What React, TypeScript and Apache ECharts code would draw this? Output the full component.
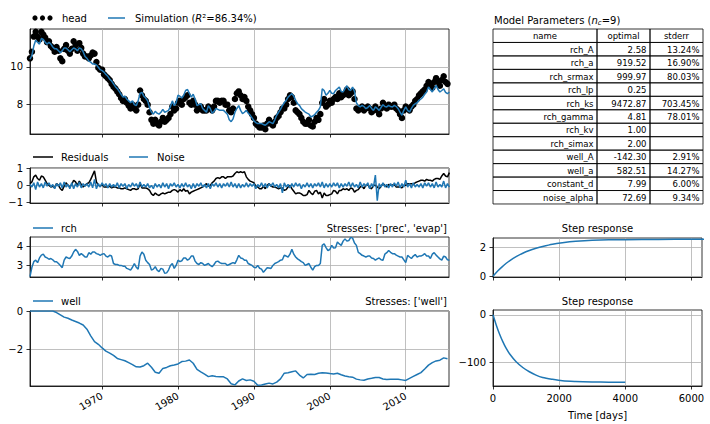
import React, { useEffect, useRef } from 'react';
import * as echarts from 'echarts';

// ---------- time base (quarterly samples starting mid 1960) ----------
const START_YEAR = 1960.5;
const STEP_YEARS = 0.25;

// observed head (one row per calendar year, quarterly samples)
const headRows: number[][] = [
  [10.45, 10.8],
  [11.6, 11.85, 11.6, 11.45],
  [11.85, 11.7, 11.55, 11.3],
  [11.35, 11.1, 11.0, 10.8],
  [11.05, 10.85, 10.45, 10.3],
  [10.95, 11.15, 10.85, 10.7],
  [10.95, 11.35, 11.15, 10.85],
  [11.25, 11.0, 10.7, 10.55],
  [10.55, 10.45, 10.6, 10.75],
  [10.7, 10.25, 9.95, 9.85],
  [9.85, 9.6, 9.5, 9.4],
  [9.3, 9.1, 8.95, 8.85],
  [8.7, 8.55, 8.35, 8.2],
  [8.3, 8.1, 7.95, 7.8],
  [8.0, 7.8, 7.7, 8.0],
  [8.75, 8.5, 8.3, 8.2],
  [8.0, 7.6, 7.2, 7.0],
  [7.2, 7.0, 6.9, 7.1],
  [7.3, 7.1, 7.2, 7.3],
  [7.5, 7.9, 7.7, 7.8],
  [8.1, 8.2, 8.0, 8.3],
  [8.4, 8.5, 8.1, 8.0],
  [8.2, 8.0, 7.7, 7.8],
  [7.9, 7.7, 7.7, 7.7],
  [7.9, 7.8, 7.7, 7.9],
  [8.2, 8.2, 8.1, 8.2],
  [8.2, 8.0, 8.0, 7.7],
  [7.6, 7.8, 8.3, 8.6],
  [8.7, 8.5, 8.3, 8.4],
  [8.2, 7.9, 7.7, 7.5],
  [7.3, 7.0, 6.9, 6.8],
  [6.8, 6.9, 6.7, 7.0],
  [7.2, 7.0, 6.9, 7.1],
  [7.3, 7.4, 7.6, 7.8],
  [7.8, 8.0, 8.3, 8.5],
  [8.4, 8.1, 7.7, 7.6],
  [7.5, 7.3, 7.1, 7.0],
  [7.0, 7.2, 6.9, 6.85],
  [7.1, 7.3, 7.2, 7.5],
  [8.1, 8.3, 7.9, 8.0],
  [8.2, 8.1, 8.3, 8.4],
  [8.3, 8.6, 8.4, 8.5],
  [8.6, 8.8, 8.5, 8.6],
  [8.7, 8.3, 7.8, 7.7],
  [7.8, 7.9, 7.7, 7.8],
  [7.9, 7.8, 7.6, 7.7],
  [7.9, 7.7, 7.5, 7.8],
  [8.1, 7.9, 7.8, 8.0],
  [7.9, 7.9, 8.0, 7.8],
  [7.7, 7.5, 7.3, 7.7],
  [7.9, 7.8, 7.7, 7.9],
  [8.0, 8.2, 8.3, 8.5],
  [8.6, 8.7, 8.8, 9.0],
  [9.2, 9.1, 8.9, 9.2],
  [9.4, 9.2, 9.0, 9.3],
  [9.5, 9.2, 9.1, 9.4],
];

// simulated head
const simRows: number[][] = [
  [10.4, 10.6],
  [11.1, 11.4, 11.3, 11.2],
  [11.5, 11.45, 11.3, 11.2],
  [11.3, 11.2, 11.05, 10.95],
  [10.95, 10.85, 10.75, 10.85],
  [11.0, 11.0, 10.9, 10.8],
  [10.9, 11.0, 10.95, 10.85],
  [11.0, 10.95, 10.8, 10.55],
  [10.45, 10.3, 10.25, 10.15],
  [10.15, 10.1, 9.98, 9.85],
  [9.8, 9.72, 9.6, 9.5],
  [9.35, 9.25, 9.1, 8.95],
  [8.85, 8.7, 8.55, 8.4],
  [8.45, 8.3, 8.2, 8.1],
  [8.2, 8.0, 7.95, 8.2],
  [8.6, 8.65, 8.45, 8.35],
  [8.2, 7.85, 7.6, 7.5],
  [7.65, 7.55, 7.5, 7.6],
  [7.75, 7.6, 7.65, 7.7],
  [7.9, 8.2, 7.95, 8.1],
  [8.5, 8.45, 8.35, 8.5],
  [8.75, 8.8, 8.6, 8.4],
  [8.55, 8.3, 7.96, 8.0],
  [8.05, 7.8, 7.7, 7.6],
  [7.95, 7.8, 7.55, 7.65],
  [7.8, 7.75, 7.7, 7.7],
  [7.7, 7.6, 7.5, 7.2],
  [7.1, 7.25, 7.6, 7.8],
  [7.95, 7.7, 7.53, 7.6],
  [7.7, 7.55, 7.45, 7.3],
  [7.15, 7.05, 7.0, 7.0],
  [7.0, 6.95, 6.91, 7.0],
  [7.1, 7.05, 7.0, 7.2],
  [7.44, 7.6, 7.75, 7.95],
  [8.1, 8.23, 8.4, 8.5],
  [8.58, 8.45, 8.23, 8.05],
  [7.96, 7.79, 7.7, 7.61],
  [7.55, 7.5, 7.35, 7.4],
  [7.47, 7.6, 7.7, 7.88],
  [8.84, 8.75, 8.5, 8.6],
  [8.75, 8.6, 8.58, 8.75],
  [8.84, 8.93, 8.7, 8.67],
  [8.85, 9.0, 8.8, 8.75],
  [8.93, 8.7, 8.1, 7.95],
  [7.88, 7.96, 7.9, 7.79],
  [7.85, 7.96, 7.8, 7.7],
  [7.88, 7.8, 7.7, 7.85],
  [8.0, 7.9, 7.88, 7.96],
  [7.9, 7.88, 7.96, 7.9],
  [7.79, 7.6, 7.44, 7.7],
  [7.88, 7.7, 7.61, 7.8],
  [7.96, 8.05, 8.1, 8.23],
  [8.3, 8.4, 8.55, 8.67],
  [8.93, 8.8, 8.67, 8.85],
  [9.02, 8.8, 8.67, 8.75],
  [8.84, 8.65, 8.58, 8.67],
];

// residuals
const residualRows: number[][] = [
  [0.1, 0.2],
  [0.5, 0.6, 0.4, 0.3],
  [0.55, 0.5, 0.3, 0.1],
  [0.0, -0.1, -0.05, -0.15],
  [0.1, 0.0, -0.2, -0.3],
  [-0.05, 0.15, 0.0, -0.1],
  [0.05, 0.3, 0.2, 0.0],
  [0.25, 0.05, -0.1, 0.0],
  [0.1, 0.15, 0.35, 0.6],
  [0.85, 0.2, 0.0, -0.05],
  [0.05, -0.1, -0.1, -0.1],
  [-0.05, -0.15, -0.1, -0.1],
  [-0.15, -0.15, -0.2, -0.2],
  [-0.15, -0.2, -0.25, -0.3],
  [-0.2, -0.2, -0.25, -0.2],
  [0.1, -0.15, -0.15, -0.15],
  [-0.2, -0.3, -0.5, -0.6],
  [-0.45, -0.55, -0.6, -0.5],
  [-0.45, -0.5, -0.45, -0.4],
  [-0.4, -0.3, -0.25, -0.3],
  [-0.4, -0.25, -0.35, -0.2],
  [-0.35, -0.3, -0.5, -0.4],
  [-0.35, -0.3, -0.25, -0.2],
  [-0.15, -0.1, 0.0, 0.1],
  [-0.05, 0.0, 0.15, 0.25],
  [0.4, 0.45, 0.4, 0.5],
  [0.5, 0.4, 0.5, 0.5],
  [0.5, 0.55, 0.7, 0.8],
  [0.75, 0.8, 0.75, 0.8],
  [0.5, 0.35, 0.25, 0.2],
  [0.15, -0.05, -0.1, -0.2],
  [-0.2, -0.05, -0.2, 0.0],
  [0.1, -0.05, -0.1, -0.1],
  [-0.15, -0.2, -0.15, -0.15],
  [-0.3, -0.25, -0.1, 0.0],
  [-0.2, -0.35, -0.5, -0.45],
  [-0.45, -0.5, -0.6, -0.6],
  [-0.55, -0.3, -0.45, -0.55],
  [-0.35, -0.3, -0.5, -0.4],
  [-0.75, -0.45, -0.6, -0.6],
  [-0.55, -0.5, -0.3, -0.35],
  [-0.5, -0.3, -0.3, -0.2],
  [-0.25, -0.2, -0.3, -0.15],
  [-0.2, -0.4, -0.3, -0.25],
  [-0.1, -0.05, -0.2, 0.0],
  [0.05, -0.15, -0.2, 0.0],
  [0.0, -0.1, -0.2, -0.05],
  [0.1, 0.0, -0.1, 0.05],
  [0.0, 0.02, 0.05, -0.1],
  [-0.1, -0.1, -0.15, 0.0],
  [0.0, 0.1, 0.1, 0.1],
  [0.05, 0.15, 0.2, 0.25],
  [0.3, 0.3, 0.25, 0.35],
  [0.3, 0.3, 0.25, 0.35],
  [0.4, 0.4, 0.35, 0.55],
  [0.7, 0.55, 0.5, 0.75],
];

// noise
const noiseRows: number[][] = [
  [0.05, -0.1],
  [0.15, -0.25, 0.2, -0.1],
  [0.1, -0.15, 0.2, -0.05],
  [0.15, -0.1, 0.05, -0.2],
  [0.1, -0.05, 0.15, -0.15],
  [0.2, -0.1, 0.05, -0.2],
  [0.15, -0.2, 0.1, -0.1],
  [0.2, -0.15, 0.1, -0.05],
  [0.1, -0.1, 0.2, -0.15],
  [0.35, -0.2, 0.1, -0.1],
  [0.15, -0.05, 0.1, -0.15],
  [0.1, -0.1, 0.05, -0.1],
  [0.15, -0.15, 0.1, -0.05],
  [0.1, -0.2, 0.05, -0.1],
  [0.15, -0.05, 0.1, -0.15],
  [0.2, -0.1, 0.05, -0.1],
  [0.1, -0.15, 0.0, -0.2],
  [0.1, -0.1, 0.05, -0.15],
  [0.15, -0.1, 0.1, -0.2],
  [0.1, -0.05, 0.15, -0.1],
  [0.05, -0.15, 0.1, -0.1],
  [0.15, -0.1, 0.05, -0.2],
  [0.1, -0.15, 0.1, -0.05],
  [0.15, -0.1, 0.05, -0.15],
  [0.1, -0.2, 0.1, -0.05],
  [0.15, -0.1, 0.1, -0.15],
  [0.1, -0.05, 0.15, -0.1],
  [0.2, -0.1, 0.1, -0.15],
  [0.1, -0.15, 0.05, -0.1],
  [0.15, -0.1, 0.1, -0.05],
  [0.1, -0.2, 0.05, -0.1],
  [0.15, -0.1, 0.1, -0.15],
  [0.1, -0.05, 0.15, -0.1],
  [0.05, -0.15, 0.1, -0.45],
  [0.15, -0.1, 0.05, -0.15],
  [0.1, -0.1, 0.15, -0.05],
  [0.1, -0.2, 0.05, -0.1],
  [0.15, -0.1, 0.1, -0.15],
  [0.1, -0.05, 0.15, -0.1],
  [0.2, -0.15, 0.1, -0.1],
  [0.1, -0.1, 0.15, -0.05],
  [0.15, -0.15, 0.1, -0.1],
  [0.1, -0.05, 0.2, -0.1],
  [0.15, -0.1, 0.05, -0.15],
  [0.2, -0.1, 0.1, -0.05],
  [0.15, -0.2, 0.1, -0.1],
  [0.6, -0.9, 0.1, -0.1],
  [0.15, -0.1, 0.05, -0.15],
  [0.1, -0.1, 0.15, -0.05],
  [0.2, -0.15, 0.1, -0.1],
  [0.3, -0.1, 0.1, -0.15],
  [0.15, -0.1, 0.05, -0.1],
  [0.1, -0.15, 0.15, -0.05],
  [0.15, -0.1, 0.1, -0.15],
  [0.2, -0.1, 0.05, -0.1],
  [0.25, -0.15, 0.1, -0.1],
];

// recharge contribution
const rchRows: number[][] = [
  [2.4, 2.9],
  [3.2, 3.28, 3.15, 3.4],
  [3.55, 3.6, 3.45, 3.4],
  [3.33, 3.37, 3.3, 3.2],
  [3.2, 3.1, 3.0, 2.88],
  [3.28, 3.45, 3.4, 3.37],
  [3.5, 3.72, 3.86, 3.75],
  [3.54, 3.63, 3.55, 3.45],
  [3.45, 3.68, 3.6, 3.72],
  [3.72, 3.63, 3.6, 3.54],
  [3.6, 3.63, 3.5, 3.45],
  [3.54, 3.5, 3.1, 3.05],
  [3.05, 3.0, 3.0, 2.96],
  [2.96, 2.84, 2.8, 2.75],
  [2.9, 3.1, 2.9, 2.8],
  [3.5, 3.72, 3.6, 3.28],
  [3.15, 3.05, 2.75, 2.8],
  [2.93, 2.75, 2.67, 2.84],
  [2.8, 2.58, 2.6, 2.75],
  [3.0, 3.1, 2.84, 3.0],
  [3.28, 3.2, 3.25, 3.4],
  [3.4, 3.28, 3.35, 3.5],
  [3.5, 3.23, 3.1, 3.05],
  [3.15, 3.1, 3.0, 3.05],
  [3.1, 3.0, 2.93, 3.05],
  [3.2, 3.23, 3.15, 3.1],
  [3.1, 3.1, 3.0, 3.05],
  [3.1, 3.15, 3.1, 3.3],
  [3.54, 3.4, 3.37, 3.28],
  [3.28, 3.1, 3.05, 3.0],
  [2.9, 2.88, 3.0, 2.85],
  [2.8, 2.63, 2.75, 2.88],
  [2.86, 2.84, 3.0, 3.1],
  [3.15, 3.2, 3.28, 3.3],
  [3.54, 3.5, 3.45, 3.6],
  [3.86, 3.6, 3.45, 3.35],
  [3.28, 3.2, 3.15, 3.0],
  [3.05, 3.1, 2.9, 2.75],
  [2.93, 3.0, 3.0, 3.1],
  [4.07, 4.16, 3.95, 3.8],
  [3.85, 4.07, 3.93, 3.95],
  [4.25, 4.15, 4.07, 4.3],
  [4.42, 4.3, 4.33, 4.5],
  [4.46, 4.2, 4.07, 3.7],
  [3.63, 3.54, 3.5, 3.45],
  [3.5, 3.5, 3.4, 3.37],
  [3.28, 3.35, 3.4, 3.3],
  [3.28, 3.6, 3.68, 3.8],
  [3.7, 3.63, 3.63, 3.55],
  [3.5, 3.45, 3.45, 3.3],
  [3.15, 3.54, 3.45, 3.37],
  [3.5, 3.58, 3.45, 3.5],
  [3.5, 3.55, 3.63, 3.5],
  [3.5, 3.37, 3.6, 3.68],
  [3.55, 3.45, 3.35, 3.28],
  [3.5, 3.45, 3.3, 3.28],
];

// well contribution, half-yearly from 1960.5
const WELL_START = 1960.5;
const WELL_STEP = 0.5;
const wellValues: number[] = [
  0, 0, 0, 0, 0, 0, 0, -0.08, -0.2, -0.32,
  -0.38, -0.47, -0.55, -0.63, -0.73, -0.95, -1.3, -1.6, -1.74, -1.93,
  -2.1, -2.2, -2.32, -2.48, -2.54, -2.6, -2.7, -2.8, -2.92, -2.93,
  -2.86, -2.73, -2.94, -3.2, -3.25, -3.0, -2.95, -2.86, -2.82, -2.77,
  -2.64, -2.62, -2.56, -2.73, -3.05, -3.18, -3.3, -3.43, -3.39, -3.42,
  -3.44, -3.44, -3.55, -3.8, -3.86, -3.66, -3.55, -3.63, -3.6, -3.67,
  -3.88, -3.87, -3.82, -3.77, -3.81, -3.72, -3.55, -3.25, -3.23, -3.18,
  -3.13, -3.35, -3.5, -3.32, -3.3, -3.32, -3.25, -3.23, -3.24, -3.27,
  -3.29, -3.25, -3.33, -3.4, -3.44, -3.46, -3.56, -3.6, -3.62, -3.55,
  -3.52, -3.48, -3.48, -3.55, -3.58, -3.57, -3.57, -3.57, -3.6, -3.63,
  -3.52, -3.42, -3.32, -3.22, -3.03, -2.83, -2.7, -2.61, -2.57, -2.45,
  -2.5,
];

// step responses
const stepRchTime = [0, 100, 200, 300, 400, 500, 700, 900, 1100, 1300, 1500, 1800, 2100, 2500, 3000, 3500, 4000, 5000, 6000, 6500];
const stepRchValue = [0, 0.27, 0.5, 0.71, 0.91, 1.08, 1.37, 1.61, 1.8, 1.95, 2.08, 2.24, 2.34, 2.44, 2.52, 2.55, 2.55, 2.57, 2.58, 2.58];
const stepWellTime = [0, 100, 200, 300, 400, 500, 700, 900, 1100, 1300, 1500, 1800, 2100, 2500, 3000, 3500, 4000];
const stepWellValue = [0, -22, -41, -57, -71, -82, -99, -111, -120, -127, -132, -136, -139, -140.5, -141.5, -142, -142.2];

// tick labels
const dateTicks = [1970, 1980, 1990, 2000, 2010];
const headTicks = [8, 10];
const residualTicks = [-1, 0, 1];
const rchTicks = [3, 4];
const wellTicks = [-2, 0];
const stepRchTicks = [0, 2];
const stepWellTicks = [-100, 0];
const stepTimeTicks = [0, 2000, 4000, 6000];

// parameter table
const paramNames = ['rch_A', 'rch_a', 'rch_srmax', 'rch_lp', 'rch_ks', 'rch_gamma', 'rch_kv', 'rch_simax', 'well_A', 'well_a', 'constant_d', 'noise_alpha'];
const paramOptimal = ['2.58', '919.52', '999.97', '0.25', '9472.87', '4.81', '1.00', '2.00', '-142.30', '582.51', '7.99', '72.69'];
const paramStderr = ['13.24%', '16.90%', '80.03%', '', '703.45%', '78.01%', '', '', '2.91%', '14.27%', '6.00%', '9.34%'];
const tableHeader = ['name', 'optimal', 'stderr'];

const BLUE = '#1f77b4';
const FONT = 'DejaVu Sans';

const years = headRows.flat().map((_, i) => START_YEAR + STEP_YEARS * i);
const toPairs = (rows: number[][]) => rows.flat().map((v, i) => [years[i], v]);
const wellPairs = wellValues.map((v, i) => [WELL_START + WELL_STEP * i, v]);
const zip = (xs: number[], ys: number[]) => xs.map((x, i) => [x, ys[i]]);

const fmt = (v: number) => (v < 0 ? '\u2212' + Math.abs(v) : String(v));

function xAx(grid: number, min: number, max: number, ticks: number[], showLabels: boolean, extra: any = {}) {
  return {
    type: 'value', gridIndex: grid, min, max, position: 'bottom',
    axisLine: { show: true, onZero: false, lineStyle: { color: '#000', width: 0.8 } },
    axisTick: { show: true, inside: false, length: 3.5, lineStyle: { color: '#000', width: 0.8 }, customValues: ticks },
    axisLabel: { show: showLabels, customValues: ticks, margin: 7, color: '#000', fontSize: 10, fontFamily: FONT, formatter: fmt, ...(extra.axisLabel || {}) },
    splitLine: { show: true, lineStyle: { color: '#b0b0b0', width: 0.8 } },
    ...(extra.rest || {}),
  };
}
function yAx(grid: number, min: number, max: number, ticks: number[]) {
  return {
    type: 'value', gridIndex: grid, min, max, position: 'left',
    axisLine: { show: true, onZero: false, lineStyle: { color: '#000', width: 0.8 } },
    axisTick: { show: true, inside: false, length: 3.5, lineStyle: { color: '#000', width: 0.8 }, customValues: ticks },
    axisLabel: { show: true, customValues: ticks, margin: 7, color: '#000', fontSize: 10, fontFamily: FONT, formatter: fmt },
    splitLine: { show: true, lineStyle: { color: '#b0b0b0', width: 0.8 } },
  };
}

function txt(text: string, x: number, y: number, align: string, size = 10, extra: any = {}) {
  return {
    type: 'text', x, y, silent: true,
    style: { text, fill: '#000', fontSize: size, fontFamily: FONT, align, textAlign: align, verticalAlign: 'middle', textVerticalAlign: 'middle', ...extra },
  };
}
function seg(x1: number, y1: number, x2: number, y2: number, color: string, w = 1.5) {
  return { type: 'line', silent: true, shape: { x1, y1, x2, y2 }, style: { stroke: color, lineWidth: w } };
}

function buildTable() {
  const els: any[] = [];
  const cols = [493, 597, 650, 703];
  const top = 29;
  const rowH = 13.46;
  const nRows = paramNames.length + 1;
  for (let r = 0; r < nRows; r++) {
    for (let c = 0; c < 3; c++) {
      els.push({
        type: 'rect', silent: true,
        shape: { x: cols[c], y: top + r * rowH, width: cols[c + 1] - cols[c], height: rowH },
        style: { fill: 'none', stroke: '#000', lineWidth: 0.8 },
      });
    }
  }
  const cy = (r: number) => top + r * rowH + rowH / 2 + 0.5;
  tableHeader.forEach((h, c) => els.push(txt(h, (cols[c] + cols[c + 1]) / 2, cy(0), 'center', 8.5)));
  paramNames.forEach((n, i) => {
    els.push(txt(n, cols[1] - 3.5, cy(i + 1), 'right', 8.5));
    els.push(txt(paramOptimal[i], cols[2] - 3.5, cy(i + 1), 'right', 8.5));
    if (paramStderr[i]) els.push(txt(paramStderr[i], cols[3] - 3.5, cy(i + 1), 'right', 8.5));
  });
  return els;
}

export default function App() {
  const ref = useRef<HTMLDivElement>(null);
  useEffect(() => {
    if (!ref.current) return;
    const chart = echarts.init(ref.current, undefined, { renderer: 'svg' });
    const gridBase = { show: true, borderColor: '#000', borderWidth: 0.8, backgroundColor: 'transparent', containLabel: false };
    const option: any = {
      animation: false,
      textStyle: { fontFamily: FONT },
      grid: [
        { ...gridBase, left: 30, top: 29, width: 419, height: 105 },
        { ...gridBase, left: 30, top: 168, width: 419, height: 35 },
        { ...gridBase, left: 30, top: 237, width: 419, height: 40 },
        { ...gridBase, left: 30, top: 311, width: 419, height: 75 },
        { ...gridBase, left: 493, top: 238, width: 209, height: 39 },
        { ...gridBase, left: 493, top: 310, width: 209, height: 76 },
      ],
      xAxis: [
        xAx(0, 1960.5, 2015.7, dateTicks, false),
        xAx(1, 1960.5, 2015.7, dateTicks, false),
        xAx(2, 1960.5, 2015.7, dateTicks, false),
        xAx(3, 1960.5, 2015.7, dateTicks, true, { axisLabel: { rotate: 30, margin: 9, formatter: (v: number) => String(v) } }),
        xAx(4, 0, 6320, stepTimeTicks, false),
        xAx(5, 0, 6320, stepTimeTicks, true, {
          rest: { name: 'Time [days]', nameLocation: 'middle', nameGap: 24, nameTextStyle: { color: '#000', fontSize: 10, fontFamily: FONT } },
        }),
      ],
      yAxis: [
        yAx(0, 6.45, 12.0, headTicks),
        yAx(1, -1.04, 1.02, residualTicks),
        yAx(2, 2.38, 4.52, rchTicks),
        yAx(3, -3.92, 0, wellTicks),
        yAx(4, -0.05, 2.67, stepRchTicks),
        yAx(5, -150, 10, stepWellTicks),
      ],
      series: [
        { name: 'head', type: 'scatter', xAxisIndex: 0, yAxisIndex: 0, data: toPairs(headRows), symbolSize: 6.5, itemStyle: { color: '#000', opacity: 1 }, silent: true },
        { name: 'Simulation', type: 'line', xAxisIndex: 0, yAxisIndex: 0, data: toPairs(simRows), showSymbol: false, lineStyle: { color: BLUE, width: 1.5 }, silent: true },
        { name: 'Residuals', type: 'line', xAxisIndex: 1, yAxisIndex: 1, data: toPairs(residualRows), showSymbol: false, lineStyle: { color: '#000', width: 1.5 }, silent: true },
        { name: 'Noise', type: 'line', xAxisIndex: 1, yAxisIndex: 1, data: toPairs(noiseRows), showSymbol: false, lineStyle: { color: BLUE, width: 1.5 }, silent: true },
        { name: 'rch', type: 'line', xAxisIndex: 2, yAxisIndex: 2, data: toPairs(rchRows), showSymbol: false, lineStyle: { color: BLUE, width: 1.5 }, silent: true },
        { name: 'well', type: 'line', xAxisIndex: 3, yAxisIndex: 3, data: wellPairs, showSymbol: false, lineStyle: { color: BLUE, width: 1.5 }, silent: true },
        { name: 'step rch', type: 'line', xAxisIndex: 4, yAxisIndex: 4, data: zip(stepRchTime, stepRchValue), showSymbol: false, smooth: 0.3, lineStyle: { color: BLUE, width: 1.5 }, silent: true },
        { name: 'step well', type: 'line', xAxisIndex: 5, yAxisIndex: 5, data: zip(stepWellTime, stepWellValue), showSymbol: false, smooth: 0.3, lineStyle: { color: BLUE, width: 1.5 }, silent: true },
      ],
      graphic: [
        // head legend
        { type: 'circle', silent: true, shape: { cx: 35, cy: 18, r: 2.6 }, style: { fill: '#000' } },
        { type: 'circle', silent: true, shape: { cx: 42.5, cy: 18, r: 2.6 }, style: { fill: '#000' } },
        { type: 'circle', silent: true, shape: { cx: 50, cy: 18, r: 2.6 }, style: { fill: '#000' } },
        txt('head', 62, 18, 'left'),
        seg(108, 18, 125, 18, BLUE),
        {
          type: 'text', x: 135, y: 18, silent: true,
          style: {
            text: '{n|Simulation (}{i|R}{n|\u00b2=86.34%)}', fill: '#000', fontSize: 10, fontFamily: FONT,
            align: 'left', textAlign: 'left', verticalAlign: 'middle', textVerticalAlign: 'middle',
            rich: { n: { fontSize: 10, fontFamily: FONT, fill: '#000' }, i: { fontSize: 10, fontFamily: FONT, fontStyle: 'italic', fill: '#000' } },
          },
        },
        // residual legend
        seg(33, 157, 53, 157, '#000'),
        txt('Residuals', 61, 157, 'left'),
        seg(129, 157, 148, 157, BLUE),
        txt('Noise', 157, 157, 'left'),
        // rch legend
        seg(33, 228, 53, 228, BLUE),
        txt('rch', 61, 228, 'left'),
        txt("Stresses: ['prec', 'evap']", 447, 228, 'right'),
        // well legend
        seg(33, 301, 53, 301, BLUE),
        txt('well', 61, 301, 'left'),
        txt("Stresses: ['well']", 447, 301, 'right'),
        // step titles
        txt('Step response', 597.5, 228, 'center'),
        txt('Step response', 597.5, 301, 'center'),
        // table title
        {
          type: 'text', x: 494, y: 20, silent: true,
          style: {
            text: '{n|Model Parameters (}{i|n}{s|c}{n|=9)}', fill: '#000', fontSize: 10, fontFamily: FONT,
            align: 'left', textAlign: 'left', verticalAlign: 'middle', textVerticalAlign: 'middle',
            rich: {
              n: { fontSize: 10, fontFamily: FONT, fill: '#000' },
              i: { fontSize: 10, fontFamily: FONT, fontStyle: 'italic', fill: '#000' },
              s: { fontSize: 7, fontFamily: FONT, fontStyle: 'italic', fill: '#000', padding: [6, 0, 0, 0] },
            },
          },
        },
        ...buildTable(),
      ],
    };
    chart.setOption(option);
    return () => chart.dispose();
  }, []);
  return <div ref={ref} style={{ position: 'fixed', left: 0, top: 0, width: 710, height: 424, background: '#fff' }} />;
}
